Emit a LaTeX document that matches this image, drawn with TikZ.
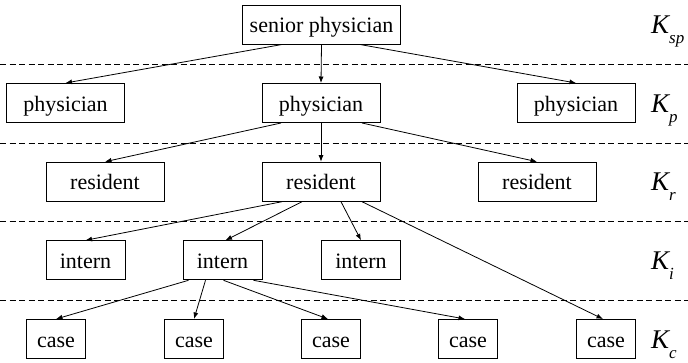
\documentclass[tikz,border=0pt]{standalone}
\usepackage{fontspec}
\setmainfont{Liberation Serif}
\usetikzlibrary{arrows.meta}
\begin{document}
\begin{tikzpicture}[x=1pt,y=-1pt,
  box/.style={draw,line width=1pt,inner sep=0pt,minimum height=39pt,text height=18pt,text depth=2pt,font=\fontsize{22}{22}\selectfont},
  wbig/.style={box,minimum width=158pt},
  wmid/.style={box,minimum width=118pt},
  wint/.style={box,minimum width=79pt},
  wcase/.style={box,minimum width=59pt},
  arr/.style={line width=0.8pt,-{Latex[length=6.5pt,width=5pt]}},
  sep/.style={line width=0.8pt,dash pattern=on 6pt off 3.5pt},
  klab/.style={anchor=base west,inner sep=0pt,font=\fontsize{27}{27}\selectfont\itshape}]
\useasboundingbox (0,0) rectangle (688,362);
% separators
\draw[sep] (0,64.5) -- (688,64.5);
\draw[sep] (0,143) -- (688,143);
\draw[sep] (0,221.5) -- (688,221.5);
\draw[sep] (0,300) -- (688,300);
% nodes
\node[wbig] (sp) at (321.5,24.5) {senior physician};
\node[wmid] (p1) at (65.5,103) {physician};
\node[wmid] (p2) at (321,103) {physician};
\node[wmid] (p3) at (576,103) {physician};
\node[wmid] (r1) at (105,181.7) {resident};
\node[wmid] (r2) at (321,181.7) {resident};
\node[wmid] (r3) at (537,181.7) {resident};
\node[wint] (i1) at (85.5,260.3) {intern};
\node[wint] (i2) at (222.5,260.3) {intern};
\node[wint] (i3) at (361,260.3) {intern};
\node[wcase] (c1) at (56,339) {case};
\node[wcase] (c2) at (194,339) {case};
\node[wcase] (c3) at (331,339) {case};
\node[wcase] (c4) at (468,339) {case};
\node[wcase] (c5) at (606,339) {case};
% level labels
\node[klab] (ksp) at (651,33.5) {K\raisebox{-10pt}{\fontsize{17}{17}\selectfont sp}};
\node[klab] (kp) at (651,112) {K\raisebox{-10pt}{\fontsize{17}{17}\selectfont p}};
\node[klab] (kr) at (651,190.7) {K\raisebox{-10pt}{\fontsize{17}{17}\selectfont r}};
\node[klab] (ki) at (651,269.3) {K\raisebox{-10pt}{\fontsize{17}{17}\selectfont i}};
\node[klab] (kc) at (651,348) {K\raisebox{-10pt}{\fontsize{17}{17}\selectfont c}};
% arrows
\draw[arr] ([xshift=-39.5pt]sp.south) -- (p1.north);
\draw[arr] (sp.south) -- (p2.north);
\draw[arr] ([xshift=38.5pt]sp.south) -- (p3.north);
\draw[arr] ([xshift=-40pt]p2.south) -- (r1.north);
\draw[arr] (p2.south) -- (r2.north);
\draw[arr] ([xshift=41pt]p2.south) -- (r3.north);
\draw[arr] ([xshift=-39pt]r2.south) -- (i1.north);
\draw[arr] ([xshift=-19pt]r2.south) -- ([xshift=3pt]i2.north);
\draw[arr] ([xshift=20pt]r2.south) -- (i3.north);
\draw[arr] ([xshift=41pt]r2.south) -- ([xshift=-3pt]c5.north);
\draw[arr] ([xshift=-34pt]i2.south) -- (c1.north);
\draw[arr] ([xshift=-17pt]i2.south) -- (c2.north);
\draw[arr] ([xshift=1pt]i2.south) -- ([xshift=-3pt]c3.north);
\draw[arr] ([xshift=31pt]i2.south) -- ([xshift=-3pt]c4.north);
\end{tikzpicture}
\end{document}
